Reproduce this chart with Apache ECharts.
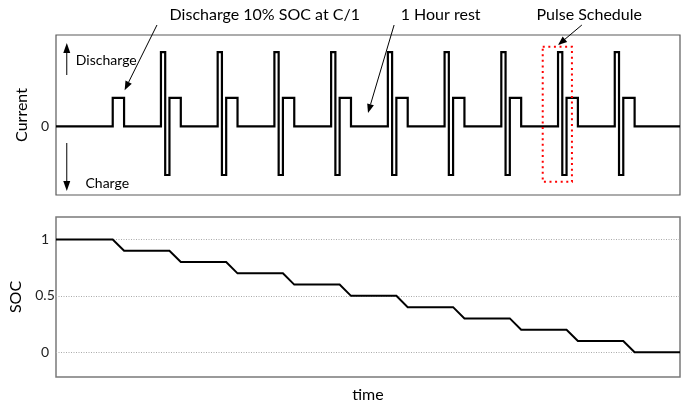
<!DOCTYPE html>
<html>
<head>
<meta charset="utf-8">
<script src="https://cdn.jsdelivr.net/npm/echarts@6/dist/echarts.min.js"></script>
<style>
  html, body { margin: 0; padding: 0; background: #fff; }
  #chart { width: 685px; height: 404px; }
</style>
</head>
<body>
<div id="chart"></div>
<script>
// Current levels (arbitrary units, relative to the C/1 discharge)
const restLevel = 0;
const dischargeLevel = 1;
const pulseHigh = 2.6;
const pulseLow = -1.7;

// Schedule, in hours: each cycle is a high discharge pulse, a charge pulse,
// then a 10% SOC discharge at C/1 followed by rest
const pulseHighStart = [1.85, 2.85, 3.85, 4.85, 5.85, 6.85, 7.85, 8.85, 9.85];
const pulseLowStart  = [1.925, 2.925, 3.925, 4.925, 5.925, 6.925, 7.925, 8.925, 9.925];
const dischargeStart = [1, 2, 3, 4, 5, 6, 7, 8, 9, 10];
const dischargeEnd   = [1.2, 2.2, 3.2, 4.2, 5.2, 6.2, 7.2, 8.2, 9.2, 10.2];
const timeEnd = 11;

// State of charge at each breakpoint
const socTime  = [0, 1, 1.2, 2, 2.2, 3, 3.2, 4, 4.2, 5, 5.2, 6, 6.2, 7, 7.2, 8, 8.2, 9, 9.2, 10, 10.2, 11];
const socValue = [1, 1, 0.9, 0.9, 0.8, 0.8, 0.7, 0.7, 0.6, 0.6, 0.5, 0.5, 0.4, 0.4, 0.3, 0.3, 0.2, 0.2, 0.1, 0.1, 0, 0];

const currentTicks = [0];
const socTicks = [0, 0.5, 1];

// Build the step waveform for the current trace
function currentWaveform() {
  const pts = [[0, restLevel]];
  for (let i = 0; i < dischargeStart.length; i++) {
    const k = i - 1; // first discharge has no pulse pair in front of it
    if (k >= 0) {
      pts.push([pulseHighStart[k], restLevel], [pulseHighStart[k], pulseHigh]);
      pts.push([pulseLowStart[k], pulseHigh], [pulseLowStart[k], pulseLow]);
      pts.push([dischargeStart[i], pulseLow], [dischargeStart[i], dischargeLevel]);
    } else {
      pts.push([dischargeStart[i], restLevel], [dischargeStart[i], dischargeLevel]);
    }
    pts.push([dischargeEnd[i], dischargeLevel], [dischargeEnd[i], restLevel]);
  }
  pts.push([timeEnd, restLevel]);
  return pts;
}

const socData = socTime.map((t, i) => [t, socValue[i]]);

const FONT = 'Lato';

const chart = echarts.init(document.getElementById('chart'), null, { renderer: 'canvas' });

const hiddenX = {
  axisLine: { show: false }, axisTick: { show: false }, axisLabel: { show: false }, splitLine: { show: false }
};

const option = {
  animation: false,
  backgroundColor: '#fff',
  textStyle: { fontFamily: FONT },
  grid: [
    { left: 56, top: 35, width: 624, height: 160, show: true, borderColor: '#5a5a5a', borderWidth: 1.2, backgroundColor: 'transparent' },
    { left: 56, top: 217, width: 624, height: 160, show: true, borderColor: '#7a7a7a', borderWidth: 1.5, backgroundColor: 'transparent' }
  ],
  xAxis: [
    Object.assign({ type: 'value', gridIndex: 0, min: 0, max: timeEnd }, hiddenX),
    Object.assign({ type: 'value', gridIndex: 1, min: 0, max: timeEnd,
      name: 'time', nameLocation: 'middle', nameGap: 10,
      nameTextStyle: { fontFamily: FONT, fontSize: 16, color: '#000' } }, hiddenX)
  ],
  yAxis: [
    { type: 'value', gridIndex: 0, min: -2.4, max: 3.2,
      name: 'Current', nameLocation: 'middle', nameGap: 24,
      nameTextStyle: { fontFamily: FONT, fontSize: 16, color: '#000' },
      axisLine: { show: false }, axisTick: { show: false },
      axisLabel: { customValues: currentTicks, margin: 11, align: 'center', fontFamily: FONT, fontSize: 14, color: '#222' },
      splitLine: { show: false } },
    { type: 'value', gridIndex: 1, min: -0.22, max: 1.2,
      name: 'SOC', nameLocation: 'middle', nameGap: 22,
      nameTextStyle: { fontFamily: FONT, fontSize: 16, color: '#000' },
      axisLine: { show: false }, axisTick: { show: false },
      axisLabel: { customValues: socTicks, margin: 11, align: 'center', fontFamily: FONT, fontSize: 14, color: '#222' },
      splitLine: { show: false } }
  ],
  series: [
    {
      type: 'line', xAxisIndex: 0, yAxisIndex: 0,
      data: currentWaveform(),
      showSymbol: false, symbol: 'none', silent: true,
      lineStyle: { color: '#000', width: 2.2, join: 'miter', miterLimit: 20 },
      z: 3
    },
    {
      // dotted reference lines behind the SOC trace
      type: 'line', xAxisIndex: 1, yAxisIndex: 1, data: [], silent: true, z: 1,
      markLine: {
        z: 1, silent: true, symbol: 'none', label: { show: false },
        lineStyle: { color: '#aaa', type: [1, 1.5], width: 1 },
        data: socTicks.map(v => ({ yAxis: v }))
      }
    },
    {
      type: 'line', xAxisIndex: 1, yAxisIndex: 1,
      data: socData,
      showSymbol: false, symbol: 'none', silent: true,
      lineStyle: { color: '#000', width: 2, join: 'miter' },
      z: 6
    }
  ]
};
chart.setOption(option);

// Annotations, positioned in the current panel's data coordinates
const annotations = [
  { text: 'Discharge 10% SOC at C/1', at: [3.68, 3.9], from: [1.78, 3.55], to: [1.21, 1.27] },
  { text: '1 Hour rest',              at: [6.78, 3.9], from: [5.96, 3.55], to: [5.50, 0.47] },
  { text: 'Pulse Schedule',           at: [9.40, 3.9], from: [9.27, 3.55], to: [8.85, 2.85] }
];
const scheduleBox = { t0: 8.58, t1: 9.095, c0: 2.79, c1: -1.94 };
const directionLabels = [
  { text: 'Discharge', at: [0.35, 2.32], arrowFrom: [0.19, 1.80], arrowTo: [0.19, 2.92] },
  { text: 'Charge',    at: [0.52, -1.98], arrowFrom: [0.19, -0.58], arrowTo: [0.19, -2.26] }
];

function px(p) { return chart.convertToPixel({ gridIndex: 0 }, p); }

function arrow(p0, p1, headLen, headHalf, width) {
  const a = px(p0), b = px(p1);
  const dx = b[0] - a[0], dy = b[1] - a[1];
  const len = Math.hypot(dx, dy);
  const ux = dx / len, uy = dy / len;
  const bx = b[0] - ux * headLen, by = b[1] - uy * headLen;
  return [
    { type: 'line', silent: true, shape: { x1: a[0], y1: a[1], x2: bx, y2: by },
      style: { stroke: '#000', lineWidth: width } },
    { type: 'polygon', silent: true,
      shape: { points: [[b[0], b[1]], [bx - uy * headHalf, by + ux * headHalf], [bx + uy * headHalf, by - ux * headHalf]] },
      style: { fill: '#000' } }
  ];
}

const graphics = [];
annotations.forEach(a => {
  const p = px(a.at);
  graphics.push({ type: 'text', silent: true, x: p[0], y: p[1],
    style: { text: a.text, fontFamily: FONT, fontSize: 16, fill: '#000', align: 'center', verticalAlign: 'middle' } });
  graphics.push(...arrow(a.from, a.to, 9, 3.5, 1));
});
directionLabels.forEach(d => {
  const p = px(d.at);
  graphics.push({ type: 'text', silent: true, x: p[0], y: p[1],
    style: { text: d.text, fontFamily: FONT, fontSize: 14, fill: '#000', align: 'left', verticalAlign: 'middle' } });
  graphics.push(...arrow(d.arrowFrom, d.arrowTo, 10, 3.5, 1));
});
const b0 = px([scheduleBox.t0, scheduleBox.c0]), b1 = px([scheduleBox.t1, scheduleBox.c1]);
graphics.push({ type: 'rect', silent: true, z: 10,
  shape: { x: b0[0], y: b0[1], width: b1[0] - b0[0], height: b1[1] - b0[1] },
  style: { fill: 'none', stroke: '#ff0000', lineWidth: 2, lineDash: [2, 3.6] } });

chart.setOption({ graphic: graphics });
</script>
</body>
</html>
